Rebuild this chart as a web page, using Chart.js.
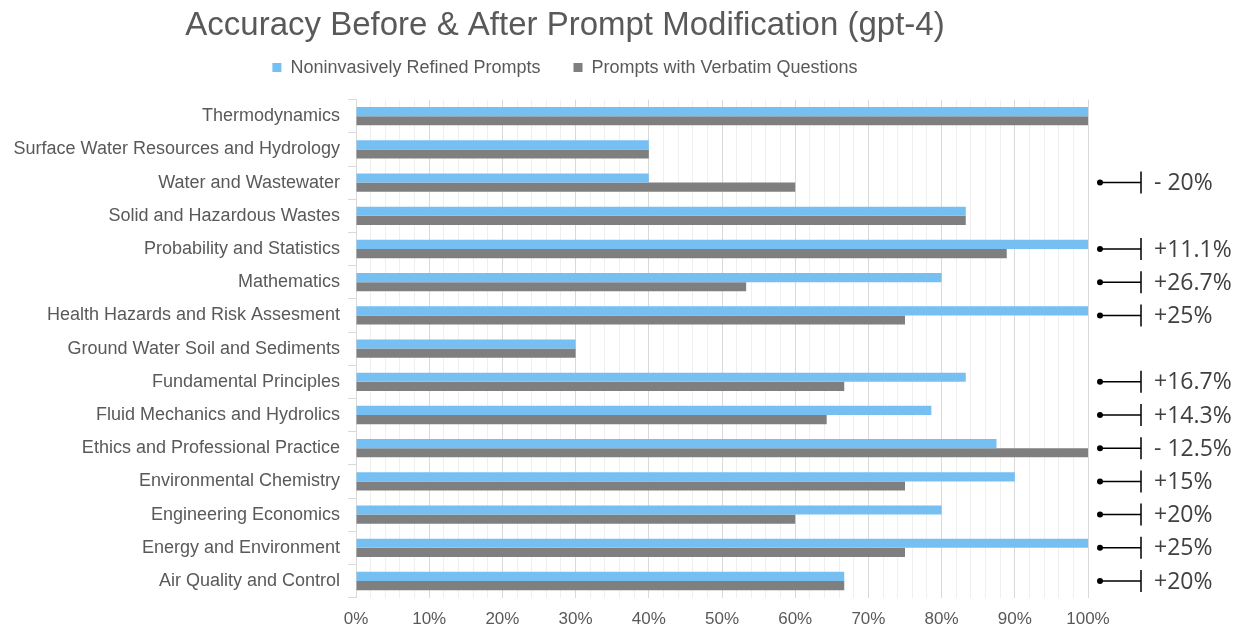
<!DOCTYPE html>
<html>
<head>
<meta charset="utf-8">
<script src="https://cdn.jsdelivr.net/npm/chart.js@4"></script>
<style>
  html, body { margin: 0; padding: 0; background: #fff; }
  #wrap { width: 1244px; height: 630px; }
</style>
</head>
<body>
<div id="wrap"><canvas id="accuracy-chart"></canvas></div>
<script>
const categories = [
    'Thermodynamics',
    'Surface Water Resources and Hydrology',
    'Water and Wastewater',
    'Solid and Hazardous Wastes',
    'Probability and Statistics',
    'Mathematics',
    'Health Hazards and Risk Assesment',
    'Ground Water Soil and Sediments',
    'Fundamental Principles',
    'Fluid Mechanics and Hydrolics',
    'Ethics and Professional Practice',
    'Environmental Chemistry',
    'Engineering Economics',
    'Energy and Environment',
    'Air Quality and Control'
];
const refinedPrompts = [100, 40, 40, 83.3, 100, 80, 100, 30, 83.3, 78.6, 87.5, 90, 80, 100, 66.7];
const verbatimPrompts = [100, 40, 60, 83.3, 88.9, 53.3, 75, 30, 66.7, 64.3, 100, 75, 60, 75, 66.7];
const changeLabels = ['', '', '- 20%', '', '+11.1%', '+26.7%', '+25%', '', '+16.7%', '+14.3%', '- 12.5%', '+15%', '+20%', '+25%', '+20%'];

const textGray = '#595959';

// 調整標題和圖例的位置
const headerShift = {
    id: 'headerShift',
    afterLayout(chart) {
        const title = chart.titleBlock;
        const legend = chart.legend;
        title.left += 42;
        title.top -= 11;
        title.bottom -= 11;
        legend.left += 42;
        legend.top -= 13;
        legend.bottom -= 13;
    }
};

// 右側的變化標記
const changeMarkers = {
    id: 'changeMarkers',
    afterDraw(chart) {
        const ctx = chart.ctx;
        const yScale = chart.scales.y;
        const left = chart.chartArea.right + 12;
        ctx.save();
        changeLabels.forEach((text, i) => {
            if (!text) return;
            const y = yScale.getPixelForValue(i);
            ctx.strokeStyle = '#000';
            ctx.fillStyle = '#000';
            ctx.lineWidth = 1.5;
            ctx.beginPath();
            ctx.arc(left, y, 3, 0, Math.PI * 2);
            ctx.fill();
            ctx.beginPath();
            ctx.moveTo(left, y);
            ctx.lineTo(left + 41, y);
            ctx.moveTo(left + 41, y - 11);
            ctx.lineTo(left + 41, y + 11);
            ctx.stroke();
            ctx.fillStyle = '#404040';
            ctx.font = '23px "Open Sans"';
            ctx.textAlign = 'left';
            ctx.textBaseline = 'middle';
            ctx.fillText(text, left + 54, y + 1);
        });
        ctx.restore();
    }
};

const ctx = document.getElementById('accuracy-chart').getContext('2d');
new Chart(ctx, {
    type: 'bar',
    data: {
        labels: categories,
        datasets: [{
            label: 'Noninvasively Refined Prompts',
            data: refinedPrompts,
            backgroundColor: '#75bff3'
        }, {
            label: 'Prompts with Verbatim Questions',
            data: verbatimPrompts,
            backgroundColor: '#7f7f7f'
        }]
    },
    options: {
        indexAxis: 'y',
        responsive: true,
        maintainAspectRatio: false,
        animation: false,
        categoryPercentage: 0.55,
        barPercentage: 1,
        layout: {
            padding: { left: 0, right: 156, top: 13, bottom: -12 }
        },
        plugins: {
            title: {
                display: true,
                text: 'Accuracy Before & After Prompt Modification (gpt-4)',
                color: textGray,
                font: { family: 'Liberation Sans', size: 33, weight: 'normal' },
                padding: { top: 4, bottom: -18 }
            },
            legend: {
                position: 'top',
                labels: {
                    color: textGray,
                    font: { family: 'Liberation Sans', size: 18 },
                    boxWidth: 9,
                    boxHeight: 9,
                    padding: 33
                }
            },
            tooltip: { enabled: false }
        },
        scales: {
            x: {
                min: 0,
                max: 100,
                border: { display: false },
                grid: {
                    drawTicks: false,
                    color: c => (c.tick && c.tick.value % 10 === 0) ? '#d9d9d9' : '#efefef'
                },
                ticks: {
                    stepSize: 2,
                    autoSkip: false,
                    maxRotation: 0,
                    padding: 12,
                    color: textGray,
                    font: { family: 'Liberation Sans', size: 17 },
                    callback: v => v % 10 === 0 ? v + '%' : ''
                }
            },
            y: {
                border: { display: true, color: '#d9d9d9' },
                grid: {
                    drawOnChartArea: false,
                    drawTicks: true,
                    tickLength: 8,
                    color: '#d9d9d9'
                },
                ticks: {
                    padding: 8,
                    color: textGray,
                    font: { family: 'Liberation Sans', size: 18 }
                },
                afterFit: scale => { scale.width = 356; }
            }
        }
    },
    plugins: [headerShift, changeMarkers]
});
</script>
</body>
</html>
